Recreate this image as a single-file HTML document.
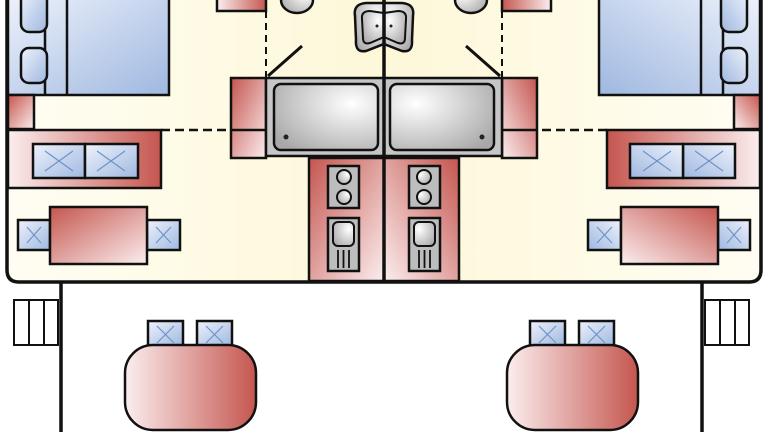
<!DOCTYPE html>
<html><head><meta charset="utf-8"><style>html,body{margin:0;padding:0;background:#fff}svg{display:block}</style></head>
<body>
<svg width="768" height="432" viewBox="0 0 768 432" xmlns="http://www.w3.org/2000/svg">
<defs>
<linearGradient id="bg" x1="0" y1="0" x2="1" y2="0"><stop offset="0" stop-color="#fffdf3"/><stop offset="1" stop-color="#fdf8d8"/></linearGradient>
<linearGradient id="blue" x1="0" y1="0" x2="1" y2="1"><stop offset="0" stop-color="#eef2fb"/><stop offset="1" stop-color="#9fb8e0"/></linearGradient>
<linearGradient id="red" x1="0" y1="0" x2="1" y2="0"><stop offset="0" stop-color="#fbeeee"/><stop offset="1" stop-color="#c5564f"/></linearGradient>
<linearGradient id="red2" x1="0" y1="0" x2="1" y2="1"><stop offset="0" stop-color="#c5564f"/><stop offset="1" stop-color="#fbeeee"/></linearGradient>
<radialGradient id="grey" cx="0.75" cy="0.3" r="0.9"><stop offset="0" stop-color="#ffffff"/><stop offset="1" stop-color="#a8a8a8"/></radialGradient>
<g id="half" stroke="#111" stroke-width="2.5">
  <rect x="7" y="-10" width="377" height="292" rx="12" fill="url(#bg)" stroke="none"/>
  <rect x="8" y="-5" width="161" height="100" fill="url(#blue)"/>
  <line x1="45" y1="0" x2="45" y2="95"/><line x1="67" y1="0" x2="67" y2="95"/>
  <rect x="21" y="-10" width="26" height="42" rx="8" fill="url(#blue)"/>
  <rect x="21" y="48" width="26" height="35" rx="8" fill="url(#blue)"/>
  <rect x="8" y="95" width="26" height="34" fill="url(#red2)"/>
  <rect x="8" y="130" width="153" height="58" fill="url(#red)"/>
  <rect x="33" y="144" width="52" height="34" fill="url(#blue)"/>
  <rect x="85" y="144" width="53" height="34" fill="url(#blue)"/>
  <g stroke="#6d93c8" stroke-width="1.2"><path d="M45 151 L73 171 M73 151 L45 171 M97 151 L125 171 M125 151 L97 171"/></g>
  <rect x="18" y="220" width="32" height="30" fill="url(#blue)"/>
  <rect x="147" y="220" width="33" height="30" fill="url(#blue)"/>
  <g stroke="#6d93c8" stroke-width="1.2"><path d="M27 227 L41 243 M41 227 L27 243 M156 227 L171 243 M171 227 L156 243"/></g>
  <rect x="50" y="207" width="97" height="57" fill="url(#red2)"/>
  <line x1="161" y1="130" x2="231" y2="130" stroke-dasharray="9,5"/>
  <line x1="266" y1="11" x2="266" y2="78" stroke-dasharray="7,5" stroke-width="2"/>
  <rect x="217" y="-5" width="49" height="16" fill="url(#red)"/>
  <ellipse cx="297" cy="0" rx="16" ry="13" fill="url(#grey)"/>
  <line x1="268" y1="76" x2="302" y2="46" stroke-width="3"/>
  <rect x="231" y="78" width="35" height="80" fill="url(#red2)"/>
  <line x1="231" y1="130" x2="266" y2="130"/>
  <rect x="266" y="78" width="118" height="78" fill="#c6c6c6"/>
  <rect x="274" y="84" width="104" height="66" rx="7" fill="url(#grey)"/>
  <circle cx="286" cy="137" r="2.5" fill="#222" stroke="none"/>
  <rect x="309" y="158" width="75" height="123" fill="url(#red2)"/>
  <rect x="328" y="166" width="31" height="42" fill="#bdbdbd"/>
  <circle cx="344" cy="177" r="7" fill="url(#grey)" stroke-width="2"/>
  <circle cx="344" cy="197" r="7" fill="url(#grey)" stroke-width="2"/>
  <rect x="328" y="218" width="31" height="53" fill="#bdbdbd"/>
  <rect x="333" y="222" width="21" height="24" rx="5" fill="url(#grey)" stroke-width="2"/>
  <path d="M338 250 V268 M343.5 250 V268 M349 250 V268" stroke-width="1.8"/>
  <path d="M384 3 L366 3 Q353 4 355 16 L356 40 Q355 53 366 51 L384 44 Z" fill="url(#grey)"/>
  <path d="M384 13 L370 11 Q361 11 362 19 L363 38 Q363 45 370 43 L384 37 Z" fill="url(#grey)" stroke-width="2"/>
  <circle cx="377" cy="26" r="1.5" fill="#222" stroke="none"/>
  <path d="M7 -5 V270 Q7 282 19 282 H384" fill="none" stroke-width="3.5"/>
</g>
</defs>
<rect width="768" height="432" fill="#fff"/>
<use href="#half"/>
<use href="#half" transform="translate(768,0) scale(-1,1)"/>
<line x1="384" y1="0" x2="384" y2="282" stroke="#111" stroke-width="3.5"/>
<g stroke="#111" stroke-width="2.5">
  <line x1="61" y1="282" x2="61" y2="432" stroke-width="3.5"/>
  <line x1="702" y1="282" x2="702" y2="432" stroke-width="3.5"/>
  <rect x="14" y="300" width="44" height="45" fill="#fff" stroke-width="2"/>
  <path d="M29 300 V345 M44 300 V345" stroke-width="2"/>
  <rect x="705" y="300" width="44" height="45" fill="#fff" stroke-width="2"/>
  <path d="M720 300 V345 M735 300 V345" stroke-width="2"/>
  <rect x="148" y="321" width="35" height="25" fill="url(#blue)"/>
  <rect x="197" y="321" width="35" height="25" fill="url(#blue)"/>
  <rect x="530" y="321" width="35" height="25" fill="url(#blue)"/>
  <rect x="579" y="321" width="35" height="25" fill="url(#blue)"/>
  <g stroke="#6d93c8" stroke-width="1.2"><path d="M157 326 L174 343 M174 326 L157 343 M206 326 L223 343 M223 326 L206 343 M539 326 L556 343 M556 326 L539 343 M588 326 L605 343 M605 326 L588 343"/></g>
  <rect x="125" y="345" width="131" height="85" rx="28" fill="url(#red)"/>
  <rect x="507" y="345" width="131" height="85" rx="28" fill="url(#red)"/>
</g>
</svg>
</body></html>
